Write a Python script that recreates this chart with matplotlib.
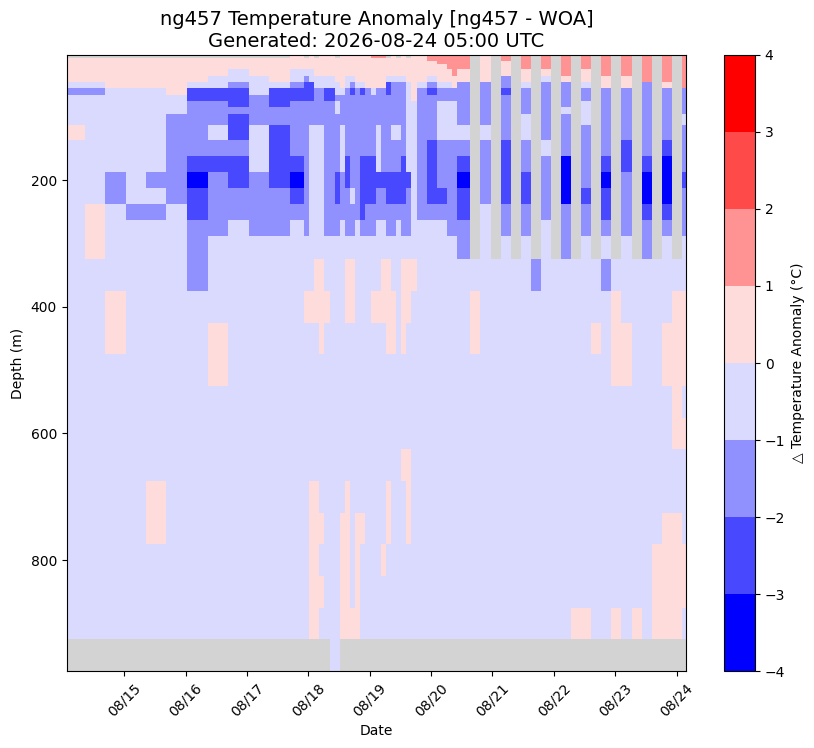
import numpy as np
import matplotlib
matplotlib.use('Agg')
import matplotlib.pyplot as plt
import matplotlib.dates as mdates
from matplotlib.colors import BoundaryNorm
import datetime as dt

start = dt.datetime(2026, 8, 14)

# column (time-bin) edges, hours after 2026-08-14 00:00 UTC
time_edges_h = [0.6, 8.6, 16.5, 24.6, 32.5, 40.3, 48.5, 56.7, 64.6, 72.8, 80.6, 88.8,
                94.3, 96.3, 98.3, 100.3, 102.3, 104.3, 106.3, 108.3, 110.3, 112.3,
                114.3, 116.3, 118.3, 120.3, 122.3, 124.3, 126.3, 128.3, 130.3, 132.3,
                134.3, 136.3, 138.3, 140.3, 142.3, 144.3, 146.3, 148.3, 150.3, 152.3,
                154.3, 159.2, 163.2, 167.3, 171.3, 175.2, 179.1, 183.0, 187.0, 190.9,
                194.8, 198.7, 202.6, 206.5, 210.5, 214.4, 218.3, 222.6, 226.5, 230.4,
                234.3, 238.2, 242.2, 246.2]

# depth-bin edges (m)
depth_edges = [2.5, 7.5, 12.5, 17.5, 25, 35, 45, 55, 65, 75, 85, 95, 112.5, 137.5,
               162.5, 187.5, 212.5, 237.5, 262.5, 287.5, 325, 375, 425, 475, 525,
               575, 625, 675, 725, 775, 825, 875, 925, 975]

# anomaly class per cell: A..H = bins -4..4, '.' = no data
class_values = {'A': -3.5, 'B': -2.5, 'C': -1.5, 'D': -0.5,
                'E': 0.5, 'F': 1.5, 'G': 2.5, 'H': 3.5, '.': np.nan}

# upper 21 depth levels (5 .. 350 m) per time column
profiles_upper = [
    ".EEEEEDCDDDDEDDDDDDDD", ".EEEEEDCDDDDDDDDDEEED", ".EEEEEEDDDDDDDDCCDDDD",
    ".EEEEEEDDDDDDDDDDCDDD", ".EEEEEEDDDDDDDDCDCDDD", ".EEEEEEEDDDCCCCCCDDDD",
    ".EEEEEDBBCCCCCBABBCCC", ".EEEEDDBBCCCDCBCCCCDD", ".EEEDDCBBBCBBCBBCCDDD",
    ".EEEEDDDCCCCDDDCCCCDD", ".EEEEEDBBBCCBBBBCCCDD", "EEEEDDCBBCCCCCBABCDDD",
    ".EEEDCBBBCCCCCCCCCCDD", "EEEEDDBBBCCCDDDDDDDDD", ".EEEEDDCCCCCDDDDDDDDE",
    "EEEEEDDCCCCCDDDDDDDDE", "EEEEEDDBBCCCCCCCCCCDD", "EEEEEDDBBCCCCCCCCCCDD",
    ".EEEEEDDCDDCCCCBBCCDD", "EEEEEEEDCCCCDDDCCCDDD", "EEEEEDDCCCCCCCBBCCCDE",
    "EEEEEDCBCCCCCCCCDCCDE", "EEEEEEDCCCCCCCCCCCDDD", "EEEEEEDBCCCCCCBBBBCDD",
    "EEEEEEECCCCCCCBBBCCDD", "FEEEEEEDCCCCCCBBBCCDD", "FEEEEEECCCCCDDDBCCDDD",
    "FEEEEEECCCCCCCCBCCDDE", ".EEEEDBBCCCCCCCBBCCDE", "EEEEEDCCCCCCDCCBBCCDD",
    ".EEEEDCCCCCCDCCBBCDDD", "EEEEEDCCCCCCCCBBBCCDE", ".EEEEEDDDDDDDDDBCCCDE",
    "EEEEEEEEEDDDDDDDDDDDE", "EEEEEEDCCCCCCCCCCCDDD", "EEEEEEDCCCCCCCCCCCDDD",
    "FFEEEDCBCCCCCBBBBCDDD", "FFEEEDCBCCCCCBBBBCDDD", "FFFEEEDCCDDDDCCCBCDDD",
    "FFFEEEDCCDDDDCCCBCDDD", "FFFFEEDCCDDDDCCCCCCDD", "FFFFFEECCDDDDCCCCCCDD",
    "FFFFEECCCCCCDCBABBCCD", "....................D", "EEEEEECCCCCCDCCCCDDDD",
    "....................D", "FFEEECCBCCCCCBBBBCCDD", "....................D",
    "FFFFEEDCCCCDDCCBBCCDD", "....................C", "FFFFEDCCCCCCCDCCCCDDD",
    "....................D", "FFFFFECCCCDCCCAAACCCD", "....................D",
    "FFFFEEDCCDDDCCCCBCCDD", "....................D", "FFFFFEECCCCCCCBABBCDC",
    "....................D", "FFFFFEECCCCCCBBCCCCDD", "....................D",
    "FFFFFFCCCCCCCCBAABCCD", "....................D", "FFFFFFECCCCCCBAAABCDD",
    "....................D", "FFFFFFFCCCCDCCCBCCCDD",
]

# lower 12 depth levels (400 .. 950 m) per time column
profiles_lower = [
    "DDDDDDDDDDD.", "DDDDDDDDDDD.", "EEDDDDDDDDD.", "DDDDDDDDDDD.", "DDDDDDEEDDD.",
    "DDDDDDDDDDD.", "DDDDDDDDDDD.", "DEEDDDDDDDD.", "DDDDDDDDDDD.", "DDDDDDDDDDD.",
    "DDDDDDDDDDD.", "DDDDDDDDDDD.", "EDDDDDDDDDD.", "EDDDDDEEEEE.", "EDDDDDEEEEE.",
    "EEDDDDDEDED.", "EDDDDDDDDDD.", "DDDDDDDDDDDD", "DDDDDDDDDDDD", "DDDDDDDEEEE.",
    "EDDDDDEEEEE.", "EDDDDDDDDDE.", "DDDDDDDEEEE.", "DDDDDDDEDDD.", "DDDDDDDDDDD.",
    "EDDDDDDDDDD.", "EDDDDDDDDDD.", "EDDDDDDDEDD.", "EEDDDDEEDDD.", "EEDDDDDDDDD.",
    "DDDDDDDDDDD.", "EEDDDEDDDDD.", "EDDDDEEEDDD.", "DDDDDDDDDDD.", "DDDDDDDDDDD.",
    "DDDDDDDDDDD.", "DDDDDDDDDDD.", "DDDDDDDDDDD.", "DDDDDDDDDDD.", "DDDDDDDDDDD.",
    "DDDDDDDDDDD.", "DDDDDDDDDDD.", "DDDDDDDDDDD.", "EEDDDDDDDDD.", "DDDDDDDDDDD.",
    "DDDDDDDDDDD.", "DDDDDDDDDDD.", "DDDDDDDDDDD.", "DDDDDDDDDDD.", "DDDDDDDDDDD.",
    "DDDDDDDDDDD.", "DDDDDDDDDDD.", "DDDDDDDDDDD.", "DDDDDDDDDDE.", "DDDDDDDDDDE.",
    "DEDDDDDDDDD.", "DDDDDDDDDDD.", "EEEDDDDDDDE.", "DEEDDDDDDDD.", "DDDDDDDDDDE.",
    "DDDDDDDDDDD.", "DDDDDDDDEEE.", "DEEDDDDEEEE.", "EEEEEDDEEEE.", "EEEDEDDDEED.",
]

title = "ng457 Temperature Anomaly [ng457 - WOA]\nGenerated: 2026-08-24 05:00 UTC"
cbar_label = "\u25b3 Temperature Anomaly (\u00b0C)"
x_range_h = (1.47, 243.7)

grid = np.array([[class_values[ch] for ch in (u + l)]
                 for u, l in zip(profiles_upper, profiles_lower)]).T
Z = np.ma.masked_invalid(grid)
X = mdates.date2num([start + dt.timedelta(hours=h) for h in time_edges_h])
Y = np.array(depth_edges)

fig = plt.figure(figsize=(8.14, 7.48), dpi=100)
ax = fig.add_axes([0.0819, 0.1029, 0.7609, 0.8236])
ax.set_facecolor('lightgray')
cmap = plt.get_cmap('bwr').copy()
cmap.set_bad('lightgray')
norm = BoundaryNorm(np.arange(-4, 5), cmap.N)
mesh = ax.pcolormesh(X, Y, Z, cmap=cmap, norm=norm, shading='flat')

ax.set_ylim(975, 2.5)
ax.set_xlim(mdates.date2num(start + dt.timedelta(hours=x_range_h[0])),
            mdates.date2num(start + dt.timedelta(hours=x_range_h[1])))
ax.xaxis.set_major_locator(mdates.DayLocator())
ax.xaxis.set_major_formatter(mdates.DateFormatter('%m/%d'))
plt.setp(ax.get_xticklabels(), rotation=45)
ax.set_xlabel('Date')
ax.set_ylabel('Depth (m)')
ax.set_title(title, fontsize=14)

cax = fig.add_axes([0.8894, 0.1029, 0.0381, 0.8236])
cb = fig.colorbar(mesh, cax=cax, ticks=np.arange(-4, 5))
cb.set_label(cbar_label)

fig.savefig('out.png', dpi=100)
